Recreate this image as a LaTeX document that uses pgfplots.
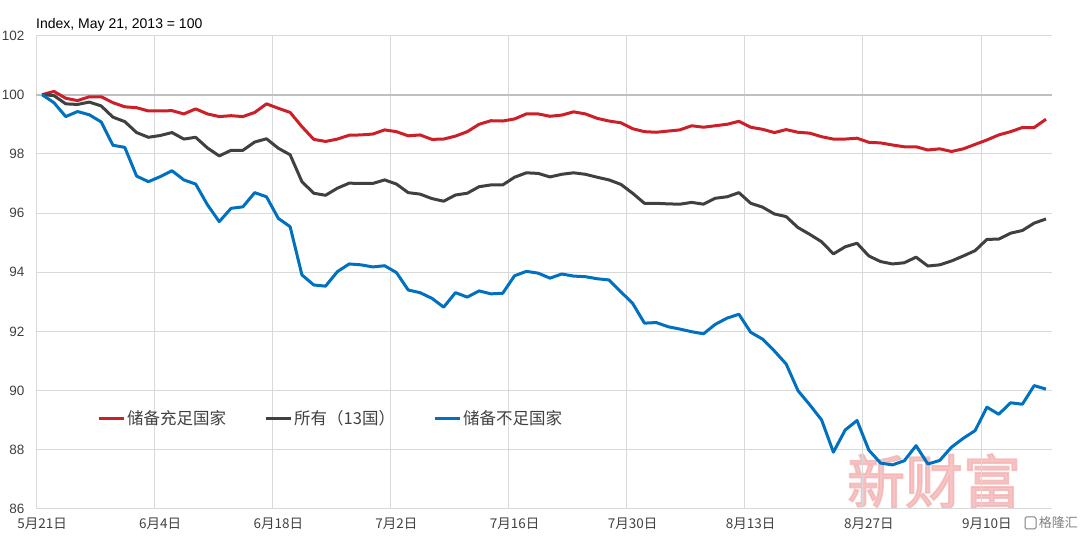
\documentclass[border=0pt]{standalone}
\usepackage{fontspec}
\setmainfont{Liberation Sans}
\newfontfamily\cjk{Noto Sans CJK SC}
\newfontfamily\cjkb[FakeBold=3]{Noto Sans CJK SC}
\usepackage{pgfplots}
\pgfplotsset{compat=1.18}
\usepackage{pgfplotstable}
\definecolor{cred}{HTML}{CC1F27}
\definecolor{cgray}{HTML}{404040}
\definecolor{cblue}{HTML}{0070C0}
\definecolor{gridgray}{HTML}{D9D9D9}
\definecolor{axisgray}{HTML}{BFBFBF}
\definecolor{txtgray}{HTML}{404040}
\definecolor{wmpink}{HTML}{F3B0B0}

\pgfplotstableread{
x r g b
0.5 100.00 100.00 100.00
1.5 100.11 99.97 99.73
2.5 99.88 99.69 99.26
3.5 99.80 99.67 99.43
4.5 99.93 99.75 99.32
5.5 99.93 99.62 99.08
6.5 99.73 99.24 98.29
7.5 99.59 99.09 98.22
8.5 99.56 98.72 97.25
9.5 99.45 98.56 97.06
10.5 99.45 98.62 97.23
11.5 99.46 98.72 97.43
12.5 99.35 98.50 97.12
13.5 99.52 98.56 96.98
14.5 99.35 98.20 96.28
15.5 99.26 97.93 95.71
16.5 99.29 98.12 96.16
17.5 99.26 98.12 96.21
18.5 99.40 98.40 96.69
19.5 99.69 98.51 96.55
20.5 99.54 98.19 95.82
21.5 99.40 97.97 95.54
22.5 98.92 97.06 93.91
23.5 98.49 96.67 93.57
24.5 98.42 96.60 93.53
25.5 98.50 96.84 94.02
26.5 98.63 97.01 94.28
27.5 98.64 97.00 94.25
28.5 98.67 97.00 94.18
29.5 98.81 97.12 94.22
30.5 98.75 96.98 93.99
31.5 98.61 96.69 93.40
32.5 98.64 96.64 93.31
33.5 98.49 96.49 93.12
34.5 98.50 96.40 92.82
35.5 98.60 96.61 93.31
36.5 98.75 96.67 93.16
37.5 99.00 96.89 93.37
38.5 99.12 96.95 93.27
39.5 99.11 96.95 93.29
40.5 99.18 97.21 93.88
41.5 99.35 97.36 94.03
42.5 99.35 97.34 93.97
43.5 99.27 97.22 93.80
44.5 99.31 97.31 93.94
45.5 99.42 97.36 93.87
46.5 99.35 97.31 93.85
47.5 99.20 97.21 93.78
48.5 99.11 97.12 93.74
49.5 99.05 96.97 93.34
50.5 98.85 96.67 92.95
51.5 98.75 96.33 92.28
52.5 98.73 96.33 92.30
53.5 98.77 96.31 92.16
54.5 98.81 96.30 92.08
55.5 98.95 96.36 91.99
56.5 98.90 96.30 91.92
57.5 98.95 96.50 92.24
58.5 99.00 96.55 92.45
59.5 99.10 96.69 92.58
60.5 98.90 96.33 91.97
61.5 98.83 96.20 91.74
62.5 98.72 95.97 91.34
63.5 98.82 95.88 90.90
64.5 98.73 95.51 90.00
65.5 98.70 95.28 89.52
66.5 98.58 95.03 89.01
67.5 98.50 94.62 87.92
68.5 98.50 94.86 88.67
69.5 98.53 94.98 88.99
70.5 98.39 94.55 87.99
71.5 98.37 94.36 87.55
72.5 98.30 94.28 87.49
73.5 98.24 94.32 87.63
74.5 98.24 94.51 88.14
75.5 98.13 94.21 87.52
76.5 98.17 94.25 87.64
77.5 98.08 94.38 88.09
78.5 98.17 94.55 88.39
79.5 98.32 94.73 88.65
80.5 98.47 95.11 89.44
81.5 98.64 95.12 89.20
82.5 98.75 95.32 89.59
83.5 98.89 95.41 89.54
84.5 98.89 95.66 90.17
85.5 99.17 95.80 90.05
}\data

\begin{document}
\begin{tikzpicture}[x=1pt,y=1pt]
\useasboundingbox (0,0) rectangle (1080,537);
% watermark
\node[text=wmpink, font=\cjkb\fontsize{58}{60}\selectfont, inner sep=0pt, opacity=0.75] at (934,56) {新财富};
\begin{axis}[
  at={(36.2pt,28pt)}, anchor=south west,
  scale only axis, width=1015.7pt, height=473.5pt,
  xmin=0, xmax=86, ymin=86, ymax=102,
  axis line style={draw=none},
  major tick length=0pt,
  ymajorgrids=true,
  grid style={draw=gridgray, line width=1pt},
  xtick={0.5,10.5,20.5,30.5,40.5,50.5,60.5,70.5,80.5},
  xticklabels={5月21日,6月4日,6月18日,7月2日,7月16日,7月30日,8月13日,8月27日,9月10日},
  extra x ticks={0,10,20,30,40,50,60,70,80},
  extra x tick labels={},
  extra x tick style={xmajorgrids=true},
  ytick={86,88,...,102},
  /pgf/number format/assume math mode=true,
  xticklabel style={font=\cjk\fontsize{13.5}{15}\selectfont, text=txtgray, anchor=north, inner sep=0pt, yshift=-8.5pt},
  yticklabel style={font=\fontsize{13.5}{15}\selectfont, text=txtgray, anchor=east, inner sep=0pt, xshift=-11.5pt},
  legend columns=3,
  legend style={at={(rel axis cs:0.0599,0.192)}, anchor=west, draw=none, fill=none, inner sep=0pt,
    font=\cjk\fontsize{16.5}{18}\selectfont, text=txtgray,
    /tikz/every even column/.append style={column sep=36pt},
    nodes={inner sep=2pt}},
  legend image code/.code={\draw[#1] (0pt,0pt) -- (25pt,0pt);},
  legend cell align=left,
]
\addplot[forget plot, draw=axisgray, line width=1.7pt] coordinates {(0,100) (86,100)};
\addplot[cred, line width=3pt, line join=round] table[x=x, y=r] {\data};
\addlegendentry{储备充足国家}
\addplot[cgray, line width=3pt, line join=round] table[x=x, y=g] {\data};
\addlegendentry{所有（13国）}
\addplot[cblue, line width=3pt, line join=round] table[x=x, y=b] {\data};
\addlegendentry{储备不足国家}
\end{axis}
\node[anchor=base west, font=\fontsize{14}{16}\selectfont, text=black, inner sep=0pt] at (36,508.5) {Index, May 21, 2013 = 100};
\draw[gray, line width=1pt, rounded corners=1.5pt] (1025,8) rectangle (1036,20);
\node[anchor=east, font=\cjk\fontsize{13}{15}\selectfont, text=gray, inner sep=0pt] at (1078,14) {格隆汇};
\end{tikzpicture}
\end{document}
